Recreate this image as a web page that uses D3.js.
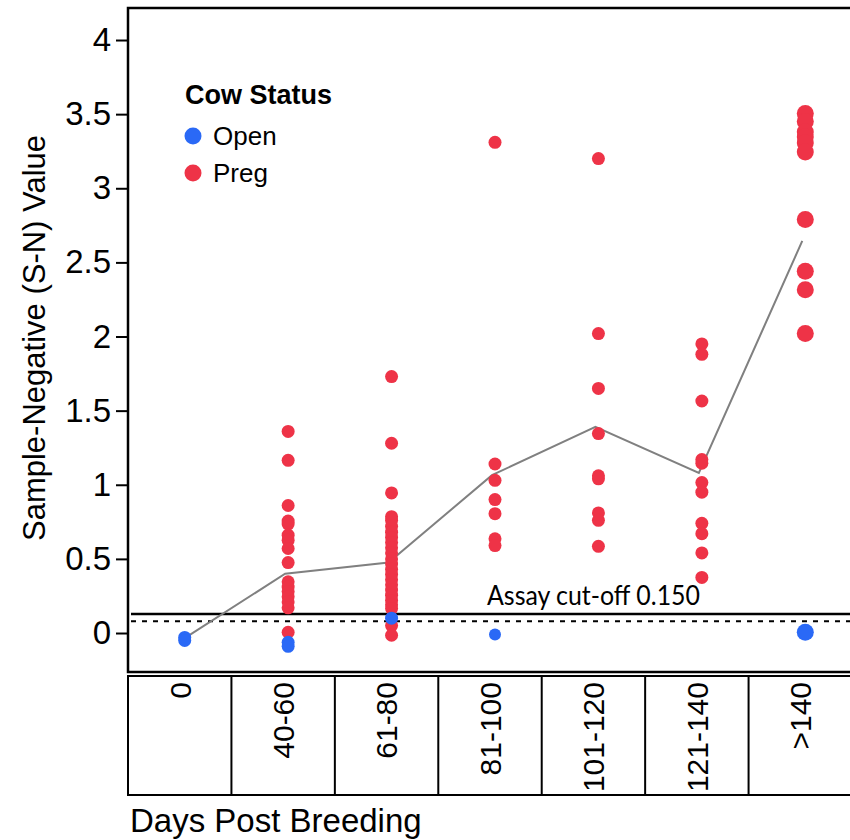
<!DOCTYPE html>
<html>
<head>
<meta charset="utf-8">
<script src="https://cdn.jsdelivr.net/npm/d3@7"></script>
<style>
  body { margin: 0; background: #fff; }
  svg { display: block; font-family: "Liberation Sans", Arial, sans-serif; }
</style>
</head>
<body>
<div id="container"></div>
<script>
// days post breeding groups
const categories = ["0", "40-60", "61-80", "81-100", "101-120", "121-140", ">140"];

// S-N values of open cows, one list per group
const openValues = [
    [-0.03, -0.05],
    [-0.063, -0.09],
    [0.10],
    [-0.01],
    [],
    [],
    [0.005]
];

// S-N values of pregnant cows, one list per group
const pregValues = [
    [],
    [1.36, 1.165, 0.86, 0.755, 0.735, 0.66, 0.625, 0.57, 0.475, 0.345, 0.31, 0.28, 0.245, 0.21, 0.17, 0.005],
    [1.73, 1.28, 0.945, 0.785, 0.76, 0.72, 0.68, 0.645, 0.61, 0.575, 0.54, 0.5, 0.465, 0.43, 0.395,
     0.36, 0.325, 0.29, 0.255, 0.22, 0.19, 0.165, 0.05, -0.015],
    [3.31, 1.14, 1.03, 0.9, 0.805, 0.635, 0.59],
    [3.2, 2.02, 1.65, 1.345, 1.06, 1.04, 0.81, 0.76, 0.585],
    [1.95, 1.88, 1.565, 1.17, 1.145, 1.015, 0.95, 0.74, 0.67, 0.54, 0.375],
    [3.505, 3.45, 3.38, 3.345, 3.305, 3.245, 2.79, 2.44, 2.315, 2.02]
];

// mean line through the groups
const means = [-0.035, 0.40, 0.475, 1.065, 1.39, 1.08, 2.645];

const yTicks = [0, 0.5, 1, 1.5, 2, 2.5, 3, 3.5, 4];
const cutoffSolid = 0.128;
const cutoffDashed = 0.08;

const width = 850;
const height = 840;
const plotLeft = 128;
const plotTop = 8;
const plotBottom = 672;
const boxTop = 676;
const boxBottom = 795;

const openColor = "#2a69f6";
const pregColor = "#ee3347";

const svg = d3.select("#container")
    .append("svg")
    .attr("width", width)
    .attr("height", height);

const x = d3.scaleBand()
    .domain(categories)
    .range([plotLeft, 852]);

// dots sit a little right of the band centre
const xPos = d => x(d) + x.bandwidth() / 2 + 5;

const y = d3.scaleLinear()
    .domain([-0.263, 4.216])
    .range([plotBottom, plotTop]);

// cut-off lines
svg.append("line")
    .attr("x1", plotLeft + 3).attr("x2", width)
    .attr("y1", y(cutoffSolid)).attr("y2", y(cutoffSolid))
    .attr("stroke", "black").attr("stroke-width", 2.5);

svg.append("line")
    .attr("x1", plotLeft + 3).attr("x2", width)
    .attr("y1", y(cutoffDashed)).attr("y2", y(cutoffDashed))
    .attr("stroke", "black").attr("stroke-width", 2)
    .attr("stroke-dasharray", "5,6");

svg.append("text")
    .attr("x", 487)
    .attr("y", y(cutoffSolid) - 9)
    .attr("textLength", 213)
    .attr("lengthAdjust", "spacingAndGlyphs")
    .style("font-family", "Lato, 'Open Sans', sans-serif")
    .style("font-size", "26px")
    .text("Assay cut-off 0.150");

// mean line
svg.append("path")
    .datum(means)
    .attr("fill", "none")
    .attr("stroke", "#808080")
    .attr("stroke-width", 2)
    .attr("d", d3.line()
        .x((d, i) => i === 0 ? xPos(categories[i]) : xPos(categories[i]) - 3)
        .y(d => y(d)));

// points
const radius = cat => cat === ">140" ? 8.5 : 6.5;

categories.forEach((cat, i) => {
    const r = cat === "81-100" ? 6 : radius(cat);
    pregValues[i].forEach(v => {
        svg.append("circle")
            .attr("cx", xPos(cat))
            .attr("cy", y(v))
            .attr("r", radius(cat))
            .attr("fill", pregColor);
    });
    openValues[i].forEach(v => {
        svg.append("circle")
            .attr("cx", xPos(cat))
            .attr("cy", y(v))
            .attr("r", r)
            .attr("fill", openColor);
    });
});

// y axis
const yAxis = svg.append("g")
    .attr("transform", `translate(${plotLeft},0)`)
    .call(d3.axisLeft(y).tickValues(yTicks).tickSize(12).tickPadding(5).tickFormat(d3.format("~g")));
yAxis.select(".domain").remove();
yAxis.selectAll(".tick line").attr("stroke-width", 2);
yAxis.selectAll("text")
    .style("font-size", "33px")
    .style("font-family", "'Liberation Sans', Arial, sans-serif");

// plot frame
svg.append("path")
    .attr("d", `M${width + 5},${plotTop}H${plotLeft}V${plotBottom}H${width + 5}`)
    .attr("fill", "none")
    .attr("stroke", "black")
    .attr("stroke-width", 2.5);

// category box under the plot
svg.append("rect")
    .attr("x", plotLeft)
    .attr("y", boxTop)
    .attr("width", width - plotLeft + 10)
    .attr("height", boxBottom - boxTop)
    .attr("fill", "none")
    .attr("stroke", "black")
    .attr("stroke-width", 2);

categories.slice(1).forEach(cat => {
    svg.append("line")
        .attr("x1", x(cat)).attr("x2", x(cat))
        .attr("y1", boxTop).attr("y2", boxBottom)
        .attr("stroke", "black").attr("stroke-width", 2);
});

const xAxis = svg.append("g")
    .attr("transform", `translate(0,${boxTop})`)
    .call(d3.axisBottom(x).tickSize(0).offset(5.5));
xAxis.select(".domain").remove();
xAxis.selectAll("text")
    .attr("transform", "rotate(-90)")
    .attr("text-anchor", "end")
    .attr("x", -6)
    .attr("y", 0)
    .attr("dy", "0.36em")
    .style("font-size", "30px")
    .style("font-family", "'Liberation Sans', Arial, sans-serif");

// axis titles
svg.append("text")
    .attr("transform", "translate(45,338) rotate(-90)")
    .attr("text-anchor", "middle")
    .style("font-size", "31px")
    .text("Sample-Negative (S-N) Value");

svg.append("text")
    .attr("x", 130)
    .attr("y", 832)
    .style("font-size", "33px")
    .text("Days Post Breeding");

// legend
svg.append("text")
    .attr("x", 185)
    .attr("y", 104)
    .style("font-size", "27px")
    .style("font-weight", "bold")
    .text("Cow Status");

[["Open", openColor], ["Preg", pregColor]].forEach(([label, color], i) => {
    svg.append("circle")
        .attr("cx", 193)
        .attr("cy", 136 + i * 37)
        .attr("r", 8.5)
        .attr("fill", color);
    svg.append("text")
        .attr("x", 213)
        .attr("y", 145 + i * 37)
        .style("font-size", "26px")
        .text(label);
});
</script>
</body>
</html>
